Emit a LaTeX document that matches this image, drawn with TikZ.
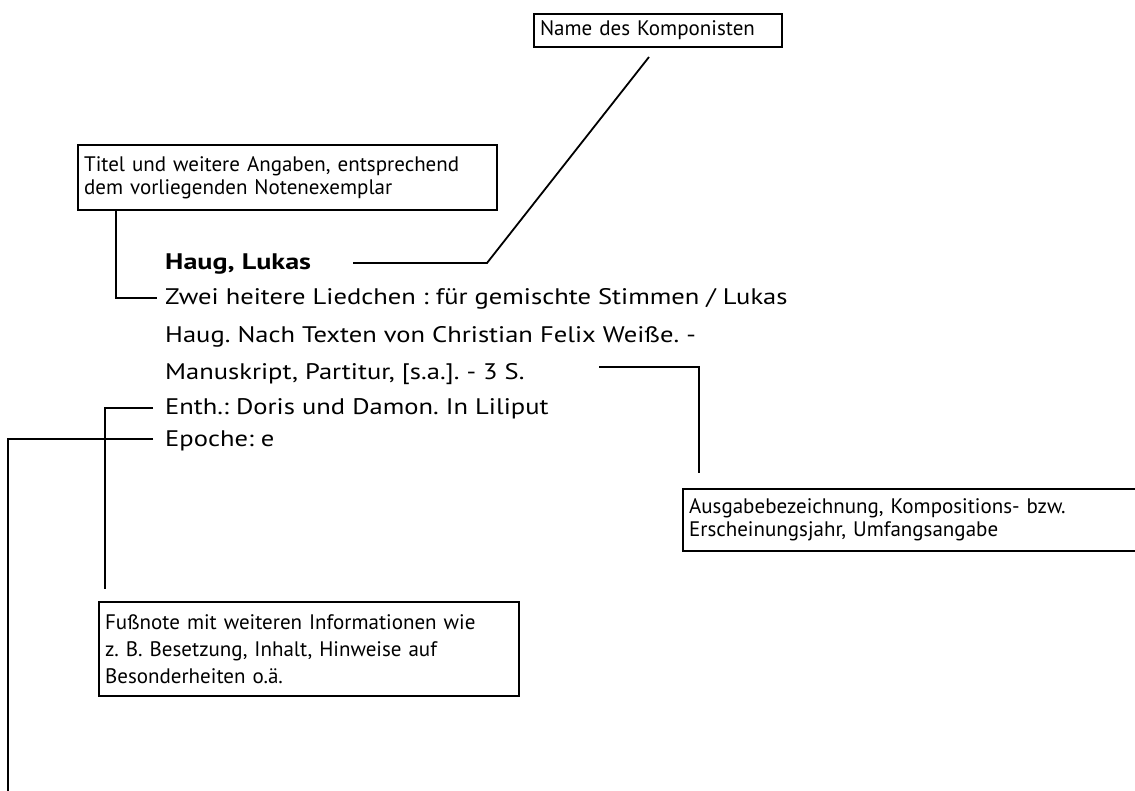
\documentclass[tikz,border=0pt]{standalone}
\usepackage{fontspec}
\setmainfont{PT Sans}
\newfontfamily\mainfam[FakeStretch=1.18]{PT Sans}
\newfontfamily\headfam[FakeStretch=1.25]{PT Sans}
\frenchspacing
\begin{document}
\begin{tikzpicture}[x=1pt,y=-1pt,
  lbl/.style={draw,line width=2.2pt,anchor=north west,inner xsep=6pt,inner ysep=0pt,align=left,font=\fontsize{21}{23}\selectfont},
  mainline/.style={anchor=base west,inner sep=0pt,font=\mainfam\fontsize{22.5}{25}\selectfont},
  conn/.style={line width=1.8pt}]
\useasboundingbox (0,0) rectangle (1135,791);
\clip (0,0) rectangle (1135,791);
% boxes
\node[lbl,minimum width=248pt,minimum height=33pt,text width=236pt] (name) at (533,13) {Name des Komponisten};
\node[lbl,minimum width=419pt,minimum height=65pt,text width=407pt] (title) at (77,144) {Titel und weitere Angaben, entsprechend\\dem vorliegenden Notenexemplar};
\node[lbl,minimum width=470pt,minimum height=62pt,text width=458pt] (ausgabe) at (682,488) {Ausgabebezeichnung, Kompositions- bzw.\\Erscheinungsjahr, Umfangsangabe};
\node[lbl,minimum width=420pt,minimum height=94pt,text width=408pt,font=\fontsize{21}{27}\selectfont] (fuss) at (98,601) {Fußnote mit weiteren Informationen wie\\z.\ B. Besetzung, Inhalt, Hinweise auf\\Besonderheiten o.ä.};
% main text
\node[mainline,font=\headfam\fontsize{22.5}{25}\selectfont\bfseries] (haug) at (165,270) {Haug, Lukas};
\node[mainline] (zwei) at (165,305) {Zwei heitere Liedchen : für gemischte Stimmen / Lukas};
\node[mainline] (nach) at (165,343) {Haug. Nach Texten von Christian Felix Weiße. -};
\node[mainline] (manu) at (165,380) {Manuskript, Partitur, [s.a.]. - 3 S.};
\node[mainline] (enth) at (165,414) {Enth.: Doris und Damon. In Liliput};
\node[mainline] (epoche) at (165,446) {Epoche: e};
% connector points
\coordinate (n0) at (353,263);
\coordinate (n1) at (487,263);
\coordinate (n2) at (649,57);
\coordinate (t1) at (157,298);
\coordinate (m0) at (599,367);
\coordinate (m1) at (699,473);
\coordinate (f0) at (153,408);
\coordinate (f1) at (105,589);
\coordinate (e0) at (153,439);
\coordinate (e1) at (8,800);
% connectors
\draw[conn] (n0) -- (n1) -- (n2);
\draw[conn] ([xshift=39pt]title.south west) |- (t1);
\draw[conn] (m0) -| (m1);
\draw[conn] (f0) -| (f1);
\draw[conn] (e0) -| (e1);
\end{tikzpicture}
\end{document}
